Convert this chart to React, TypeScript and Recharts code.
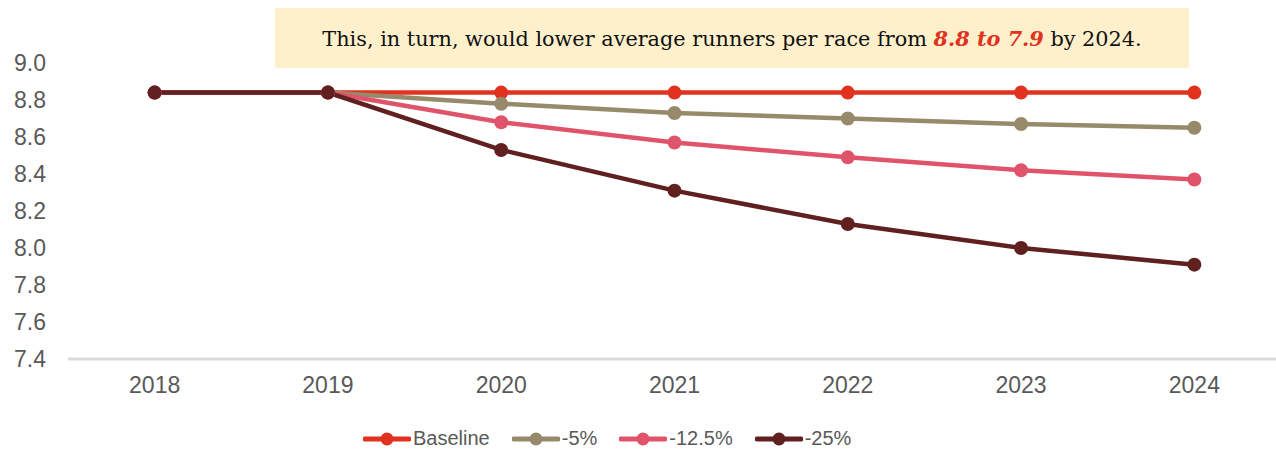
import React from "react";
import { LineChart, Line, XAxis, YAxis } from "recharts";

const years = ["2018", "2019", "2020", "2021", "2022", "2023", "2024"];
const baseline = [8.84, 8.84, 8.84, 8.84, 8.84, 8.84, 8.84];
const minus5 = [8.84, 8.84, 8.78, 8.73, 8.7, 8.67, 8.65];
const minus12 = [8.84, 8.84, 8.68, 8.57, 8.49, 8.42, 8.37];
const minus25 = [8.84, 8.84, 8.53, 8.31, 8.13, 8.0, 7.91];
const yTicks = [7.4, 7.6, 7.8, 8.0, 8.2, 8.4, 8.6, 8.8, 9.0];

const series = [
  { key: "baseline", name: "Baseline", color: "#E0321F" },
  { key: "m5", name: "-5%", color: "#978A6B" },
  { key: "m12", name: "-12.5%", color: "#DF546A" },
  { key: "m25", name: "-25%", color: "#602020" },
];

const data = years.map((y, i) => ({
  year: y,
  baseline: baseline[i],
  m5: minus5[i],
  m12: minus12[i],
  m25: minus25[i],
}));

const LegendBox = () => (
  <div style={{ position: "absolute", left: 363, top: 427, display: "flex", alignItems: "center", fontFamily: "'Liberation Sans', Arial, sans-serif", fontSize: 20, color: "#595959" }}>
    {series.map((s) => (
      <div key={s.key} style={{ display: "flex", alignItems: "center", marginRight: 22 }}>
        <svg width={48} height={16} style={{ marginRight: 2 }}>
          <line x1={2} y1={8} x2={46} y2={8} stroke={s.color} strokeWidth={5} strokeLinecap="round" />
          <circle cx={24} cy={8} r={6.5} fill={s.color} />
        </svg>
        <span>{s.name}</span>
      </div>
    ))}
  </div>
);

export default function App() {
  return (
    <div style={{ position: "fixed", left: 0, top: 0, width: 1276, height: 449, overflow: "hidden", background: "#fff" }}>
      <LineChart width={1290} height={449} data={data} margin={{ top: 63, right: 9, bottom: 50, left: 8 }}>
        <XAxis
          dataKey="year"
          padding={{ left: 0, right: 0 }}
          axisLine={{ stroke: "#D9D9D9", strokeWidth: 3 }}
          tickLine={false}
          tick={{ fill: "#595959", fontSize: 23, fontFamily: "'Liberation Sans', Arial, sans-serif" }}
          tickMargin={12}
          height={40}
          scale="band"
        />
        <YAxis
          domain={[7.4, 9.0]}
          ticks={yTicks}
          interval={0}
          tickFormatter={(v: number) => v.toFixed(1)}
          axisLine={false}
          tickLine={false}
          width={60}
          tickMargin={16}
          tick={{ fill: "#595959", fontSize: 23, fontFamily: "'Liberation Sans', Arial, sans-serif" }}
        />
        {series.map((s) => (
          <Line
            key={s.key}
            dataKey={s.key}
            name={s.name}
            stroke={s.color}
            strokeWidth={4.5}
            dot={{ r: 7, fill: s.color, stroke: s.color, strokeWidth: 0 }}
            activeDot={false}
            isAnimationActive={false}
          />
        ))}
      </LineChart>
      <LegendBox />
      <div
        style={{
          position: "absolute",
          left: 275,
          top: 8,
          width: 914,
          height: 60,
          background: "#FFF0CC",
          display: "flex",
          alignItems: "center",
          justifyContent: "center",
          fontFamily: "'DejaVu Serif', Georgia, serif",
          fontSize: 20.8,
          color: "#111",
        }}
      >
        <span>
          This, in turn, would lower average runners per race from{" "}
          <b style={{ color: "#E0321F", fontStyle: "italic" }}>8.8 to 7.9</b> by 2024.
        </span>
      </div>
    </div>
  );
}
